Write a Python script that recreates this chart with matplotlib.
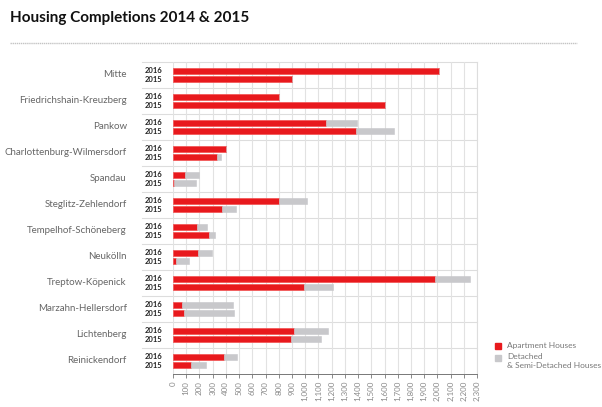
import numpy as np
import matplotlib.pyplot as plt
from matplotlib.transforms import blended_transform_factory

# -------------------------------------------------------
# DATA
# -------------------------------------------------------
districts = ["Mitte", "Friedrichshain-Kreuzberg", "Pankow",
             "Charlottenburg-Wilmersdorf", "Spandau", "Steglitz-Zehlendorf",
             "Tempelhof-Schöneberg", "Neukölln", "Treptow-Köpenick",
             "Marzahn-Hellersdorf", "Lichtenberg", "Reinickendorf"]
years = ["2016", "2015"]

apt_2016 = [2015, 800, 1157, 399, 91, 799, 184, 190, 1979, 68, 912, 382]
det_2016 = [0, 0, 235, 0, 106, 212, 74, 106, 265, 387, 261, 101]
apt_2015 = [900, 1605, 1382, 336, 5, 371, 273, 25, 993, 81, 892, 136]
det_2015 = [0, 0, 291, 25, 169, 107, 48, 96, 217, 381, 230, 112]

x_ticks = list(range(0, 2301, 100))

RED = "#e8191d"
RED_EDGE = "#f25a5a"
GREY = "#c8c8cb"
TXT = "#666666"
FONT = ["Lato", "DejaVu Sans"]

# -------------------------------------------------------
# PLOT
# -------------------------------------------------------
fig = plt.figure(figsize=(6.02, 4.07), dpi=100)
ax = fig.add_axes([0.2874, 0.0811, 0.505, 0.7666])

y = np.arange(len(districts))
off = 0.155
h = 0.235

for yy, apt, det in [(y - off, apt_2016, det_2016), (y + off, apt_2015, det_2015)]:
    ax.barh(yy, apt, height=h, color=RED, edgecolor=RED_EDGE, linewidth=0.6, zorder=3)
    ax.barh(yy, det, left=apt, height=h, color=GREY, edgecolor=GREY, linewidth=0.4, zorder=3)

ax.set_xlim(0, 2300)
ax.set_ylim(len(districts) - 0.5, -0.5)
ax.set_xticks(x_ticks)
ax.set_xticklabels([f"{t:,}" for t in x_ticks], rotation=90, fontsize=5.8,
                   color="#8a8a8a", family=FONT)
ax.set_yticks([])
ax.tick_params(axis="x", length=3, width=0.6, color="#777777", pad=2)

for s in ["left", "top"]:
    ax.spines[s].set_visible(False)
ax.spines["right"].set_color("#dddddd")
ax.spines["right"].set_linewidth(0.8)
ax.spines["bottom"].set_color("#777777")
ax.spines["bottom"].set_linewidth(0.7)

ax.grid(axis="x", color="#e2e2e2", linewidth=0.8, zorder=0)

# row separators that run under the year labels too
trans = blended_transform_factory(ax.transAxes, ax.transData)
for b in np.arange(-0.5, len(districts) - 0.5, 1.0):
    ax.plot([-0.102, 1.0], [b, b], transform=trans, color="#dddddd",
            linewidth=0.8, clip_on=False, zorder=1)

# labels
for i, name in enumerate(districts):
    ax.text(-0.152, i, name, transform=trans, ha="right", va="center",
            fontsize=7, color=TXT, family=FONT)
    for yy, yr in [(i - off, years[0]), (i + off, years[1])]:
        ax.text(-0.035, yy, yr, transform=trans, ha="right", va="center",
                fontsize=5.5, fontweight="bold", color="#222222", family=FONT)

# title and rule
fig.text(0.017, 0.955, "Housing Completions 2014 & 2015", ha="left", va="center",
         fontsize=11, fontweight="bold", color="#111111", family=FONT)
fig.add_artist(plt.Line2D([0.017, 0.958], [0.894, 0.894], color="#c4c4c4",
                          linewidth=1.0, linestyle=(0, (1, 0.5))))

# legend
fig.patches.append(plt.Rectangle((0.822, 0.142), 0.011, 0.016, color=RED,
                                 transform=fig.transFigure))
fig.patches.append(plt.Rectangle((0.822, 0.112), 0.011, 0.016, color=GREY,
                                 transform=fig.transFigure))
fig.text(0.842, 0.152, "Apartment Houses", fontsize=6, color="#777777",
         va="center", family=FONT)
fig.text(0.842, 0.124, "Detached", fontsize=6, color="#777777",
         va="center", family=FONT)
fig.text(0.842, 0.102, "& Semi-Detached Houses", fontsize=6, color="#777777",
         va="center", family=FONT)

fig.savefig("out.png", dpi=100)
